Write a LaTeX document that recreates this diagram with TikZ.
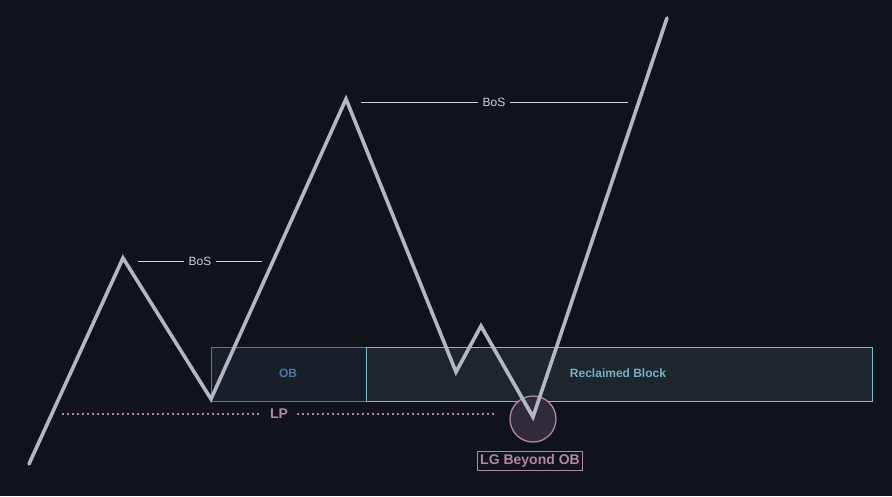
\documentclass[tikz,border=0pt]{standalone}
\usepackage{fontspec}
\setmainfont{Liberation Sans}
\usepackage{tikz}
\usetikzlibrary{positioning}

\definecolor{bgdark}{RGB}{16,19,26}
\definecolor{pricegray}{RGB}{178,183,193}
\definecolor{bosgray}{RGB}{205,209,217}
\definecolor{obfill}{RGB}{25,31,41}
\definecolor{obline}{RGB}{88,120,160}
\definecolor{obtext}{RGB}{78,118,168}
\definecolor{rbfill}{RGB}{29,37,45}
\definecolor{rbline}{RGB}{112,190,208}
\definecolor{rbtext}{RGB}{118,176,196}
\definecolor{lppink}{RGB}{178,136,166}
\definecolor{lgfill}{RGB}{50,42,56}

\tikzset{
  bos/.style={text=bosgray,font=\fontsize{12}{12}\selectfont,inner sep=0pt},
  bosline/.style={bosgray,line width=1pt},
  blocklabel/.style={font=\bfseries\fontsize{12}{12}\selectfont,inner sep=0pt}
}

\begin{document}
\begin{tikzpicture}[x=1pt,y=-1pt]
		\fill[bgdark] (0,0) rectangle (892,496);
		\useasboundingbox (0,0) rectangle (892,496);
		% blocks
		\draw[obline,fill=obfill] (211,347) rectangle (366,401);
		\draw[rbline,fill=rbfill] (366,347) rectangle (872,401);
		\node[blocklabel,text=obtext] (ob) at (288,373) {OB};
		\node[blocklabel,text=rbtext] (rb) at (618,373) {Reclaimed Block};
		% liquidity pool
		\node[text=lppink,font=\bfseries\fontsize{14}{14}\selectfont,inner sep=0pt] (lp) at (279,414) {LP};
		\coordinate (lpl) at (62,414);
		\coordinate (lpr) at (495,414);
		\draw[lppink,line width=1.6pt,dash pattern=on 1.6pt off 3.4pt] (lpl) -- ([xshift=-9pt]lp.west);
		\draw[lppink,line width=1.6pt,dash pattern=on 1.6pt off 3.4pt] ([xshift=9pt]lp.east) -- (lpr);
		% liquidity grab
		\node[circle,draw=lppink,fill=lgfill,line width=1.3pt,minimum size=46pt,inner sep=0pt] (grab) at (533,419) {};
		\node[draw=lppink,line width=1pt,text=lppink,font=\bfseries\fontsize{14}{14}\selectfont,inner sep=2.5pt] (lg) at (530,461) {LG Beyond OB};
		% price path
		\coordinate (p0) at (29,464);
		\coordinate (p1) at (123,258);
		\coordinate (p2) at (211,399);
		\coordinate (p3) at (346,99);
		\coordinate (p4) at (456,372);
		\coordinate (p5) at (481,326);
		\coordinate (p6) at (533,417);
		\coordinate (p7) at (667,18);
		\draw[pricegray,line width=3.6pt,line cap=round,line join=miter] (p0) -- (p1) -- (p2) -- (p3) -- (p4) -- (p5) -- (p6) -- (p7);
		% break of structure
		\node[bos] (bos1) at (200,261) {BoS};
		\coordinate (bos1l) at (138,261);
		\coordinate (bos1r) at (262,261);
		\draw[bosline] (bos1l) -- ([xshift=-4pt]bos1.west);
		\draw[bosline] ([xshift=4pt]bos1.east) -- (bos1r);
		\node[bos] (bos2) at (494,102) {BoS};
		\coordinate (bos2l) at (361,102);
		\coordinate (bos2r) at (628,102);
		\draw[bosline] (bos2l) -- ([xshift=-4pt]bos2.west);
		\draw[bosline] ([xshift=4pt]bos2.east) -- (bos2r);
\end{tikzpicture}
\end{document}
